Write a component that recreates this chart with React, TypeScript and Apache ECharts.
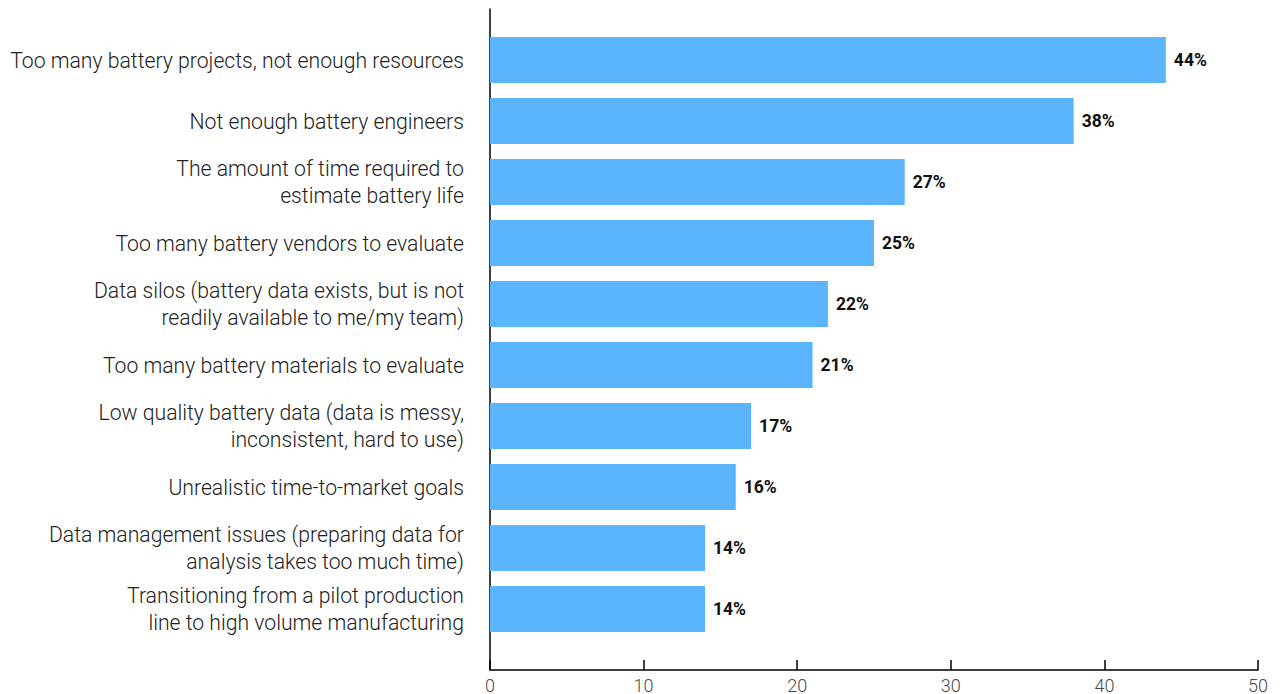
import React, { useEffect, useRef } from "react";
import * as echarts from "echarts";

const categories = [
  "Too many battery projects, not enough resources",
  "Not enough battery engineers",
  "The amount of time required to\nestimate battery life",
  "Too many battery vendors to evaluate",
  "Data silos (battery data exists, but is not\nreadily available to me/my team)",
  "Too many battery materials to evaluate",
  "Low quality battery data (data is messy,\ninconsistent, hard to use)",
  "Unrealistic time-to-market goals",
  "Data management issues (preparing data for\nanalysis takes too much time)",
  "Transitioning from a pilot production\nline to high volume manufacturing",
];
const values = [44, 38, 27, 25, 22, 21, 17, 16, 14, 14];
const xMin = 0;
const xMax = 50;
const xInterval = 10;

export default function App() {
  const ref = useRef<HTMLDivElement>(null);
  useEffect(() => {
    if (!ref.current) return;
    const chart = echarts.init(ref.current, undefined, { renderer: "svg" });
    const font = "Roboto, 'Noto Sans', sans-serif";
    chart.setOption({
      animation: false,
      textStyle: { fontFamily: font },
      grid: [
        { left: 490, right: 22, top: 29.5, bottom: 54.5 },
        { left: 490, right: 22, top: 9, bottom: 24 },
      ],
      xAxis: [
        {
          gridIndex: 0,
          type: "value",
          min: xMin,
          max: xMax,
          interval: xInterval,
          show: false,
        },
        {
          gridIndex: 1,
          type: "value",
          min: xMin,
          max: xMax,
          interval: xInterval,
          axisLine: { show: true, lineStyle: { color: "#000", width: 1.5 } },
          axisTick: { show: true, inside: true, length: 10, lineStyle: { color: "#000", width: 1.5 } },
          axisLabel: { color: "#4a4a4a", fontSize: 18, fontFamily: font, fontWeight: 300, margin: 6 },
          splitLine: { show: false },
        },
      ],
      yAxis: [
        {
          gridIndex: 0,
          type: "category",
          data: categories,
          inverse: true,
          axisLine: { show: false },
          axisTick: { show: false },
          axisLabel: {
            color: "#222",
            fontSize: 21.2,
            fontWeight: 300,
            fontFamily: font,
            lineHeight: 27,
            margin: 26,
            align: "right",
            padding: [4, 0, 0, 0],
          },
        },
        {
          gridIndex: 1,
          type: "category",
          data: [""],
          axisLine: { show: true, lineStyle: { color: "#000", width: 1.5 } },
          axisTick: { show: false },
          axisLabel: { show: false },
        },
      ],
      series: [
        {
          type: "bar",
          xAxisIndex: 0,
          yAxisIndex: 0,
          data: values,
          barWidth: 46,
          itemStyle: { color: "#5BB5FC" },
          label: {
            show: true,
            position: "right",
            distance: 8,
            formatter: "{c}%",
            color: "#111",
            fontSize: 17.5,
            fontWeight: "bold",
            fontFamily: font,
          },
        },
      ],
    });
    return () => chart.dispose();
  }, []);
  return (
    <div
      ref={ref}
      style={{ position: "fixed", left: 0, top: 0, width: 1280, height: 694, background: "#fff" }}
    />
  );
}
